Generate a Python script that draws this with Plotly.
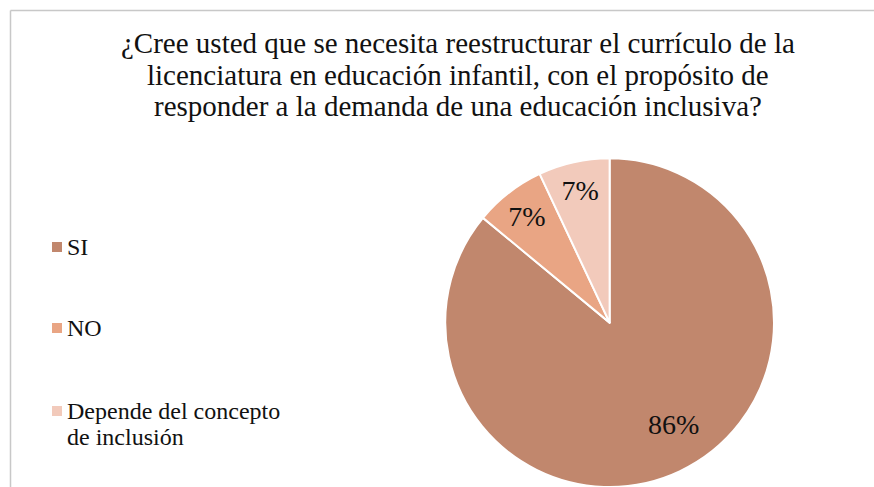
import math
import plotly.graph_objects as go

# Survey answers and their shares (percent)
categories = ["SI", "NO", "Depende del concepto de inclusión"]
legend_lines = [["SI"], ["NO"], ["Depende del concepto", "de inclusión"]]
values = [86, 7, 7]
colors = ["#C1876D", "#E9A584", "#F2CABB"]

title_lines = ["¿Cree usted que se necesita reestructurar el currículo de la",
               "licenciatura en educación infantil, con el propósito de",
               "responder a la demanda de una educación inclusiva?"]

serif = "Liberation Serif"
ink = "#111111"
W, H = 874, 487

# Pie placement (paper fractions)
pie_x = [0.505, 0.89]
pie_y = [0.0, 0.675]

fig = go.Figure()
fig.add_trace(go.Pie(
    labels=categories,
    values=values,
    sort=False,
    direction="clockwise",
    rotation=0,
    marker=dict(colors=colors, line=dict(color="white", width=2)),
    texttemplate=["", "%{value}%", "%{value}%"],
    textposition="inside",
    insidetextorientation="horizontal",
    textfont=dict(family=serif, size=28, color=ink),
    showlegend=False,
    hoverinfo="label+percent",
    domain=dict(x=pie_x, y=pie_y),
))

annotations = []
shapes = []


def px_to_paper_y(y_px):
    return 1 - y_px / H


# Label of the large slice, placed inside it
total = sum(values)
cx = (pie_x[0] + pie_x[1]) / 2 * W
cy = (1 - (pie_y[0] + pie_y[1]) / 2) * H
radius = min((pie_x[1] - pie_x[0]) * W, (pie_y[1] - pie_y[0]) * H) / 2
label_angle = math.radians(values[0] / total * 360 * 0.477)
lx = cx + 0.73 * radius * math.sin(label_angle)
ly = cy - 0.73 * radius * math.cos(label_angle)
annotations.append(dict(text=f"{values[0]}%", xref="paper", yref="paper",
                        x=lx / W, y=px_to_paper_y(ly), xanchor="center", yanchor="middle",
                        showarrow=False, font=dict(family=serif, size=28, color=ink)))

# Title, one annotation per line for tight line spacing
title_size = 29
for i, line in enumerate(title_lines):
    baseline = 52 + i * 31.5
    annotations.append(dict(text=line, xref="paper", yref="paper",
                            x=0.524, y=px_to_paper_y(baseline - 0.3 * title_size),
                            xanchor="center", yanchor="middle", showarrow=False,
                            font=dict(family=serif, size=title_size, color=ink)))

# Legend: colored squares with labels
legend_size = 24
legend_baselines = [254, 335, 418]
for lines, col, base in zip(legend_lines, colors, legend_baselines):
    mid = base - 7
    shapes.append(dict(type="rect", xref="paper", yref="paper",
                       x0=52 / W, x1=62 / W,
                       y0=px_to_paper_y(mid + 5), y1=px_to_paper_y(mid - 5),
                       fillcolor=col, line=dict(width=0)))
    for j, line in enumerate(lines):
        b = base + j * 26
        annotations.append(dict(text=line, xref="paper", yref="paper",
                                x=65 / W, y=px_to_paper_y(b - 0.3 * legend_size),
                                xanchor="left", yanchor="middle", showarrow=False,
                                font=dict(family=serif, size=legend_size, color=ink)))

# Chart frame (top and left edges)
shapes.append(dict(type="line", xref="paper", yref="paper",
                   x0=10.5 / W, x1=1.0, y0=px_to_paper_y(10.5), y1=px_to_paper_y(10.5),
                   line=dict(color="#C8C8C8", width=1.5)))
shapes.append(dict(type="line", xref="paper", yref="paper",
                   x0=10.5 / W, x1=10.5 / W, y0=px_to_paper_y(10.5), y1=0.0,
                   line=dict(color="#C8C8C8", width=1.5)))

fig.update_layout(
    width=W, height=H,
    margin=dict(l=0, r=0, t=0, b=0),
    paper_bgcolor="white",
    plot_bgcolor="white",
    shapes=shapes,
    annotations=annotations,
)

fig.write_html("out.html")
